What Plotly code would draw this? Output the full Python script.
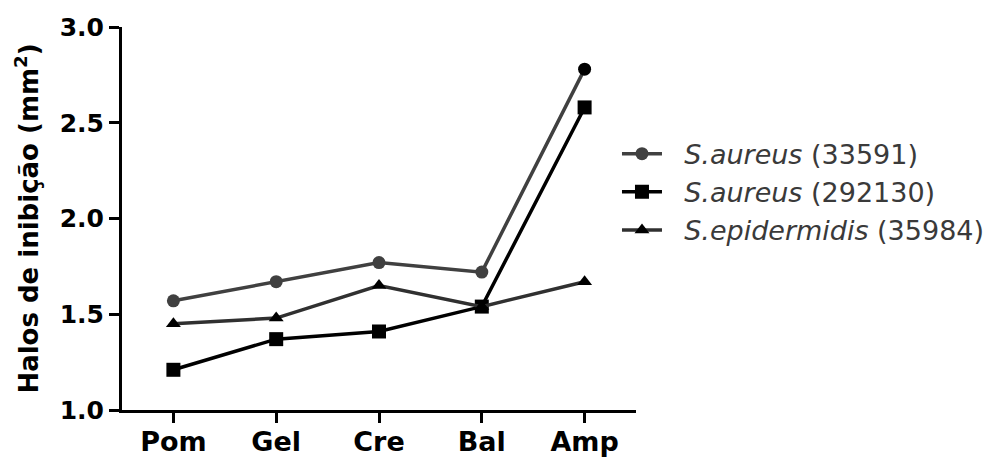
import plotly.graph_objects as go

categories = ["Pom", "Gel", "Cre", "Bal", "Amp"]
s_aureus_33591 = [1.57, 1.67, 1.77, 1.72, 2.78]
s_aureus_292130 = [1.21, 1.37, 1.41, 1.54, 2.58]
s_epidermidis_35984 = [1.45, 1.48, 1.65, 1.54, 1.67]
y_ticks = [1.0, 1.5, 2.0, 2.5, 3.0]
y_tick_labels = ["1.0", "1.5", "2.0", "2.5", "3.0"]
series_names = ["<i>S.aureus</i> (33591)", "<i>S.aureus</i> (292130)",
                "<i>S.epidermidis</i> (35984)"]

FONT = "DejaVu Sans, Liberation Sans, Arial, sans-serif"
PAD = "\u00a0\u00a0"

fig = go.Figure()
fig.add_trace(go.Scatter(
    x=categories, y=s_aureus_33591, mode="lines+markers",
    name=PAD + series_names[0],
    line=dict(color="#404040", width=3.5),
    marker=dict(symbol="circle", size=13, color=["#404040"] * 4 + ["#000000"]),
))
fig.add_trace(go.Scatter(
    x=categories, y=s_aureus_292130, mode="lines+markers",
    name=PAD + series_names[1],
    line=dict(color="#000000", width=3.5),
    marker=dict(symbol="square", size=14, color="#000000"),
))
fig.add_trace(go.Scatter(
    x=categories, y=s_epidermidis_35984, mode="lines+markers",
    name=PAD + series_names[2],
    line=dict(color="#303030", width=3.5),
    marker=dict(symbol="triangle-up", size=13, color="#000000"),
))

fig.update_layout(
    width=1005, height=458,
    margin=dict(l=122, r=369, t=27, b=48, autoexpand=False),
    paper_bgcolor="white", plot_bgcolor="white",
    font=dict(family=FONT, color="black"),
    showlegend=True,
    legend=dict(
        x=0.963, y=0.732, xanchor="left", yanchor="top",
        font=dict(size=27, color="#3a3a3a", family=FONT),
        bgcolor="rgba(0,0,0,0)", tracegroupgap=0, itemwidth=40,
    ),
)
fig.update_xaxes(
    type="category", range=[-0.5, 4.5], automargin=False,
    showline=True, linecolor="black", linewidth=3,
    ticks="outside", ticklen=10, tickwidth=3, tickcolor="black",
    tickfont=dict(size=27, family=FONT, color="black", weight="bold"),
    ticklabelstandoff=-4,
    showgrid=False, zeroline=False,
)
fig.update_yaxes(
    range=[1.0, 3.0], tickvals=y_ticks, ticktext=y_tick_labels, automargin=False,
    showline=True, linecolor="black", linewidth=3,
    ticks="outside", ticklen=10, tickwidth=3, tickcolor="black",
    tickfont=dict(size=25, family=FONT, color="black", weight="bold"),
    showgrid=False, zeroline=False,
    title=dict(text="Halos de inibição (mm<sup>2</sup>)",
               font=dict(size=26, family=FONT, color="black", weight="bold"),
               standoff=14),
)

fig.write_html("out.html")
